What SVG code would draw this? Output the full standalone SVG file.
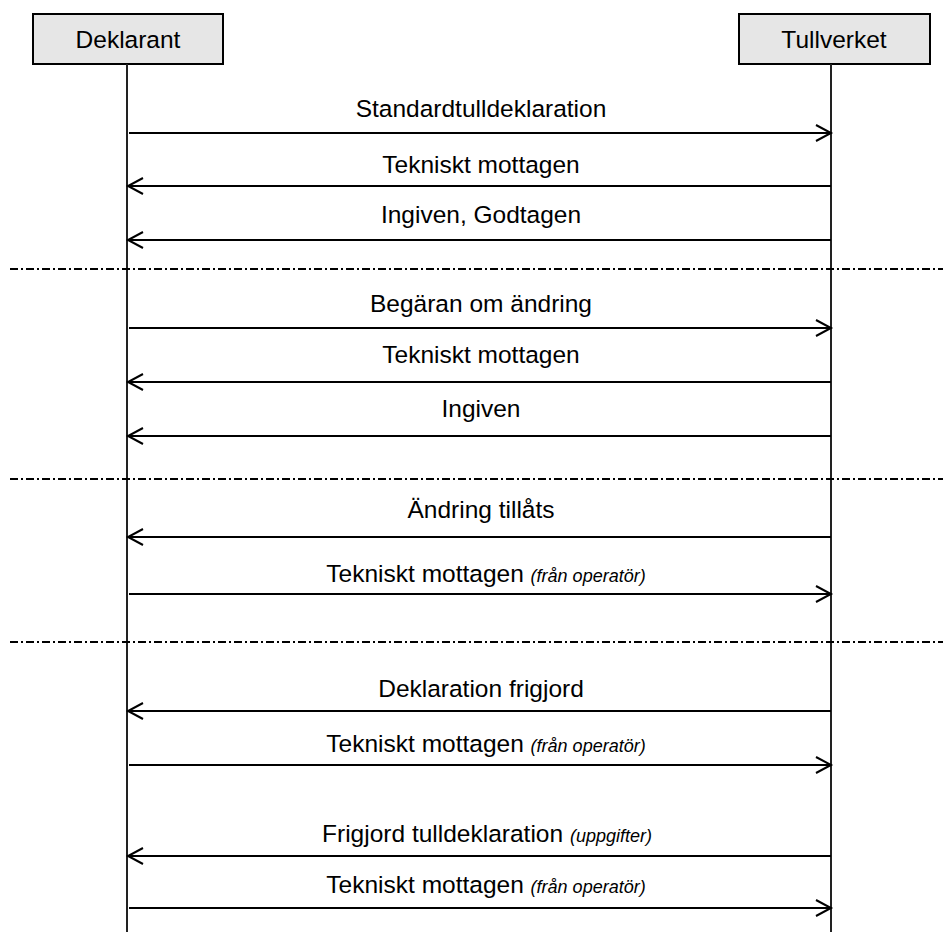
<svg xmlns="http://www.w3.org/2000/svg" width="943" height="932" viewBox="0 0 943 932">
<defs>
<style>
.box{fill:#e6e6e6;stroke:#000;stroke-width:2}
.life{stroke:#222;stroke-width:2;fill:none}
.msg{stroke:#000;stroke-width:2;fill:none;marker-end:url(#arr)}
.sep{stroke:#000;stroke-width:2;stroke-dasharray:8 3 2 3;fill:none}
text{font-family:"Liberation Sans",Arial,sans-serif;font-size:24.5px;fill:#000}
.lbl{text-anchor:middle}
.it{font-style:italic;font-size:18px}
</style>
<marker id="arr" markerUnits="userSpaceOnUse" markerWidth="20" markerHeight="20" refX="0" refY="0" viewBox="-17 -10 20 20" orient="auto" overflow="visible">
<path d="M-15,-8 L0,0 L-15,8" fill="none" stroke="#000" stroke-width="2"/>
</marker>
</defs>
<g id="node-deklarant">
<rect class="box" x="33" y="14" width="190" height="50"/>
<line class="life" x1="127" y1="64" x2="127" y2="932"/>
<text class="lbl" x="128" y="48">Deklarant</text>
</g>
<g id="node-tullverket">
<rect class="box" x="739" y="14" width="191" height="50"/>
<line class="life" x1="831" y1="64" x2="831" y2="932"/>
<text class="lbl" x="834" y="48">Tullverket</text>
</g>
<g id="separators">
<line class="sep" x1="10" y1="269" x2="943" y2="269"/>
<line class="sep" x1="10" y1="479" x2="943" y2="479"/>
<line class="sep" x1="10" y1="642" x2="943" y2="642"/>
</g>
<g id="connectors">
<line class="msg" x1="129" y1="133" x2="831" y2="133"/>
<line class="msg" x1="831" y1="186" x2="128" y2="186"/>
<line class="msg" x1="831" y1="240" x2="128" y2="240"/>
<line class="msg" x1="129" y1="328" x2="831" y2="328"/>
<line class="msg" x1="831" y1="382" x2="128" y2="382"/>
<line class="msg" x1="831" y1="436" x2="128" y2="436"/>
<line class="msg" x1="831" y1="537" x2="128" y2="537"/>
<line class="msg" x1="129" y1="594" x2="831" y2="594"/>
<line class="msg" x1="831" y1="711" x2="128" y2="711"/>
<line class="msg" x1="129" y1="765" x2="831" y2="765"/>
<line class="msg" x1="831" y1="856" x2="128" y2="856"/>
<line class="msg" x1="129" y1="908" x2="831" y2="908"/>
</g>
<g id="labels">
<text class="lbl" x="481" y="117">Standardtulldeklaration</text>
<text class="lbl" x="481" y="173">Tekniskt mottagen</text>
<text class="lbl" x="481" y="223">Ingiven, Godtagen</text>
<text class="lbl" x="481" y="312">Begäran om ändring</text>
<text class="lbl" x="481" y="363">Tekniskt mottagen</text>
<text class="lbl" x="481" y="417">Ingiven</text>
<text class="lbl" x="481" y="518">Ändring tillåts</text>
<text class="lbl" x="486" y="582">Tekniskt mottagen <tspan class="it">(från operatör)</tspan></text>
<text class="lbl" x="481" y="697">Deklaration frigjord</text>
<text class="lbl" x="486" y="752">Tekniskt mottagen <tspan class="it">(från operatör)</tspan></text>
<text class="lbl" x="487" y="842">Frigjord tulldeklaration <tspan class="it">(uppgifter)</tspan></text>
<text class="lbl" x="486" y="893">Tekniskt mottagen <tspan class="it">(från operatör)</tspan></text>
</g>
</svg>
